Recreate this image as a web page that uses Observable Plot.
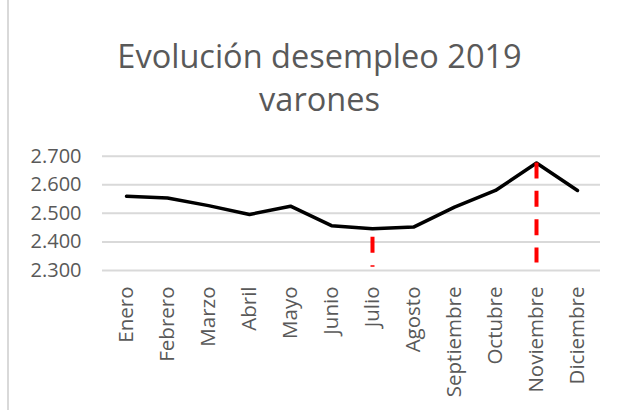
<!DOCTYPE html>
<html>
<head>
<meta charset="utf-8">
<script src="https://cdn.jsdelivr.net/npm/d3@7"></script>
<script src="https://cdn.jsdelivr.net/npm/@observablehq/plot@0.6"></script>
<style>
  html, body { margin: 0; padding: 0; background: #fff; }
  #wrap { position: relative; width: 621px; height: 411px; overflow: hidden; background: #fff; font-family: "Open Sans", sans-serif; }
  #border { position: absolute; left: 7px; top: 0; width: 1.5px; height: 410px; background: #d9d9d9; }
  #title { position: absolute; left: 9px; width: 621px; top: 34px; text-align: center; color: #595959; font-size: 32.5px; line-height: 43px; }
  #chart { position: absolute; left: 0; top: 130px; }
</style>
</head>
<body>
<div id="wrap">
  <div id="border"></div>
  <div id="title">Evolución desempleo 2019<br>varones</div>
  <div id="chart"></div>
</div>
<script>
const months = ["Enero","Febrero","Marzo","Abril","Mayo","Junio","Julio","Agosto","Septiembre","Octubre","Noviembre","Diciembre"];
const values = [2.560, 2.554, 2.527, 2.496, 2.525, 2.457, 2.446, 2.452, 2.522, 2.580, 2.676, 2.580];
const yTicks = [2.3, 2.4, 2.5, 2.6, 2.7];
const markerMonths = ["Julio", "Noviembre"];
const markerTop = [2.416, 2.676];
const markerBottom = [2.311, 2.326];

const data = months.map((m, i) => ({month: m, value: values[i]}));
const markers = markerMonths.map((m, i) => ({month: m, top: markerTop[i], bottom: markerBottom[i]}));

const chart = Plot.plot({
  width: 621,
  height: 281,
  marginLeft: 102,
  marginRight: 21,
  marginTop: 25.7,
  marginBottom: 141,
  style: {fontFamily: "Open Sans, sans-serif", fontSize: "19.5px", color: "#595959", background: "transparent"},
  x: {type: "point", domain: months, padding: 0.5, label: null},
  y: {domain: [2.3, 2.7], label: null},
  marks: [
    Plot.ruleY(yTicks, {stroke: "#d9d9d9", strokeWidth: 2}),
    Plot.axisY(yTicks, {tickSize: 0, tickPadding: 21, tickFormat: d3.format(".3f"), fill: "#595959", fontSize: 20, label: null}),
    Plot.axisX({tickSize: 0, tickPadding: 16, tickRotate: -90, fill: "#595959", fontSize: 20.5, label: null}),
    Plot.line(data, {x: "month", y: "value", stroke: "#000", strokeWidth: 3.5, strokeLinejoin: "round"}),
    Plot.ruleX(markers, {x: "month", y1: "top", y2: "bottom", stroke: "#ff0000", strokeWidth: 4, strokeDasharray: "16,12.3"})
  ]
});
document.getElementById("chart").appendChild(chart);
</script>
</body>
</html>
